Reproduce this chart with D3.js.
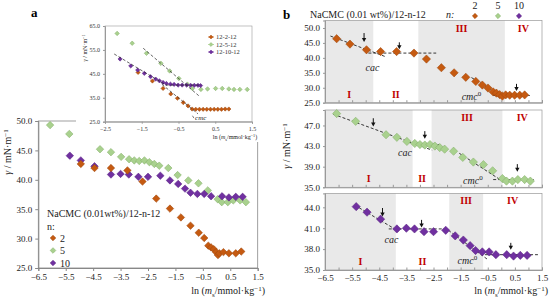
<!DOCTYPE html>
<html>
<head>
<meta charset="utf-8">
<script src="https://cdn.jsdelivr.net/npm/d3@7"></script>
<style>
body { margin: 0; background: #fff; }
text { font-family: "Liberation Serif", "DejaVu Serif", serif; }
</style>
</head>
<body>
<div id="my_dataviz"></div>
<script>
var width = 550;
var height = 298;

// panel a, main chart (NaCMC 0.01 wt% / 12-n-12)
var aX2 = [-4.95,-4.45,-3.85,-3.25,-2.7,-2.2,-1.7,-1.3,-0.95,-0.65,-0.45,-0.3,-0.2,-0.1,-0.02,0.05,0.1,0.25,0.45,0.7,0.9];
var aY2 = [42.7,42.0,42.0,41.6,39.7,36.8,35.1,33.6,32.2,31.0,30.1,28.8,28.5,28.2,27.7,27.2,27.5,27.7,27.5,27.5,27.8];
var aX5 = [-6.07,-5.37,-4.25,-3.85,-3.48,-3.19,-3.0,-2.82,-2.63,-2.45,-2.27,-2.09,-1.76,-1.42,-1.03,-0.66,-0.32,0.04,0.19,0.41,0.61,0.86,1.07];
var aY5 = [49.3,47.8,45.2,44.7,43.9,43.5,43.3,43.2,43.3,43.0,42.7,42.4,42.0,40.8,39.9,39.4,38.2,36.7,36.2,36.2,36.5,36.5,36.2];
var aX10 = [-5.35,-4.95,-4.45,-3.85,-3.5,-3.2,-2.85,-2.5,-2.05,-1.7,-1.4,-1.15,-0.95,-0.7,-0.45,-0.2,0.2,0.45,0.7,0.95];
var aY10 = [44.1,43.3,42.3,40.9,41.0,40.9,40.5,40.5,40.7,39.9,39.3,38.5,37.8,37.6,37.6,37.2,37.2,37.0,37.1,37.1];

// panel a, inset (no polymer)
var iX2 = [-1.60,-1.21,-0.92,-0.71,-0.53,-0.37,-0.24,-0.13,-0.03,0.07,0.17,0.27,0.37,0.47,0.57,0.67,0.77,0.87];
var iY2 = [45.6,42.0,38.9,36.6,34.8,33.0,31.6,30.3,30.2,30.2,30.2,30.2,30.2,30.2,30.2,30.2,30.3,30.3];
var iX5 = [-2.17,-1.76,-1.37,-0.98,-0.74,-0.49,-0.26,-0.12,0.11,0.29,0.51,0.69,0.87,1.01,1.17,1.37];
var iY5 = [61.9,57.8,53.6,49.4,46.2,43.1,40.7,38.9,38.5,38.7,38.9,38.9,38.7,38.5,38.5,38.5];
var iX10 = [-2.09,-1.80,-1.61,-1.43,-1.26,-1.12,-1.02,-0.92,-0.83,-0.72,-0.62,-0.51,-0.40,-0.28,-0.17,-0.07,0.03,0.1];
var iY10 = [51.2,48.3,46.6,45.2,43.8,42.8,42.1,41.4,41.0,40.7,40.6,40.3,40.3,40.3,40.2,40.2,40.2,40.1];
var iFits = [[-1.46,55.7,0.08,35.5],[-2.25,53.3,-0.85,40.4],[-0.95,40.6,0.03,28.3],[-0.85,40.3,0.12,40.3]];
var iLegend = ['12-2-12','12-5-12','12-10-12'];

// panel b orange series (other two are the same as panel a)
var bX2 = [-6.07,-5.58,-4.97,-4.45,-3.86,-3.22,-2.76,-2.21,-1.74,-1.31,-0.94,-0.70,-0.49,-0.30,-0.18,-0.06,0.04,0.16,0.31,0.49,0.68,0.86];
var bY2 = [46.4,44.6,42.7,42.1,42.1,41.6,39.6,36.7,35.0,33.5,32.1,30.9,29.9,28.6,28.2,27.7,27.2,27.6,27.5,27.5,27.5,27.6];

// panel b: shaded regions I and III, fit lines, arrows
var bShade = [[[-6.5,-4.72],[-3.06,0.13]], [[-6.5,-3.27],[-2.57,0.04]], [[-6.5,-3.89],[-1.92,-0.67]]];
var bFits = [
    [[-6.3,47.3,-4.3,40.5],[-4.9,41.6,-2.4,41.6],[-1.1,33.4,0.15,26.6],[-0.3,27.4,1.05,27.4]],
    [[-6.2,49.2,-2.55,42.2],[-3.45,43.7,-2.3,43.3],[-1.55,41.6,0.1,36.0],[-0.3,36.5,1.2,36.5]],
    [[-5.4,44.3,-3.8,40.6],[-4.15,40.9,-1.95,40.9],[-1.95,40.7,-0.5,36.5],[-0.6,37.2,1.35,37.2]]
];
var bArrows = [
    [[-5.06,48.3,45.3],[-3.76,45.2,42.9],[0.56,31.3,28.9]],
    [[-4.72,48.4,46.8],[-2.82,45.9,44.4],[0.59,39.5,38.0]],
    [[-4.38,43.9,42.7],[-2.94,42.2,41.1],[0.35,38.9,37.9]]
];
var bTicks = [[25,30,35,40,45,50],[35,39,43,47],[35,38,41,44]];
var xTicks = [-6.5,-5.5,-4.5,-3.5,-2.5,-1.5,-0.5,0.5,1.5];
var nLabels = ['2','5','10'];
var romans = ['I','II','III','IV'];

var colors = ['#c55a11', '#a9d18e', '#7030a0'];
var strokes = ['#9e470c', '#82ad66', '#5a2282'];

var svg = d3.select("#my_dataviz").append('svg').attr('height', height).attr('width', width);

function diamond(g, xs, ys, xsc, ysc, c, size){
    for(var i = 0; i < xs.length; i++){
        g.append('path')
            .attr('d', d3.symbol(d3.symbolSquare, size)())
            .attr('transform', `translate(${xsc(xs[i])},${ysc(ys[i])}) rotate(45)`)
            .attr('fill', colors[c])
            .attr('stroke', strokes[c])
            .attr('stroke-width', 0.5);
    }
}

function dashed(g, f, xsc, ysc, w){
    g.append('line')
        .attr('x1', xsc(f[0])).attr('y1', ysc(f[1]))
        .attr('x2', xsc(f[2])).attr('y2', ysc(f[3]))
        .attr('stroke', '#222').attr('stroke-width', w)
        .style('stroke-dasharray', '3,2');
}

function xTitle(x, y, fs, anchor){
    var t = svg.append('text').attr('x', x).attr('y', y).attr('text-anchor', anchor)
        .style('font-size', fs + 'px').attr('fill', '#222');
    t.append('tspan').text('ln (');
    t.append('tspan').style('font-style', 'italic').text('m');
    t.append('tspan').attr('dy', fs*0.25).style('font-size', (fs*0.7) + 'px').text('s');
    t.append('tspan').attr('dy', -fs*0.25).text('/mmol·kg');
    t.append('tspan').attr('dy', -fs*0.35).style('font-size', (fs*0.7) + 'px').text('−1');
    t.append('tspan').attr('dy', fs*0.35).text(')');
}

function yTitle(x, y, fs){
    var t = svg.append('text').attr('transform', `translate(${x},${y}) rotate(-90)`)
        .attr('text-anchor', 'middle').style('font-size', fs + 'px').attr('fill', '#222');
    t.append('tspan').style('font-style', 'italic').text('γ');
    t.append('tspan').text(' / mN·m');
    t.append('tspan').attr('dy', -fs*0.35).style('font-size', (fs*0.7) + 'px').text('−1');
}

// ---------------- panel a main ----------------
var ax = d3.scaleLinear().domain([-6.5, 1.5]).range([38.3, 257.7]);
var ay = d3.scaleLinear().domain([25, 50]).range([268, 121]);

svg.append('text').attr('x', 31).attr('y', 17).style('font-size', '13px').style('font-weight', 'bold').text('a');

svg.append('rect').attr('x', ax(-6.5)).attr('y', ay(50)).attr('width', ax(1.5)-ax(-6.5)).attr('height', ay(25)-ay(50))
    .attr('fill', 'none').attr('stroke', '#888').attr('stroke-width', 0.8);

svg.append('g').attr('transform', `translate(0,${ay(25)})`)
    .call(d3.axisBottom(ax).tickValues(xTicks).tickFormat(d3.format('.1f')).tickSize(3))
    .call(g => g.select('.domain').attr('stroke', '#888'))
    .call(g => g.selectAll('line').attr('stroke', '#888'))
    .call(g => g.selectAll('text').style('font-size', '9px').attr('fill', '#222').style('font-family', '"Liberation Serif", serif'));
svg.append('g').attr('transform', `translate(${ax(-6.5)},0)`)
    .call(d3.axisLeft(ay).tickValues([25,30,35,40,45,50]).tickFormat(d3.format('.1f')).tickSize(3))
    .call(g => g.select('.domain').attr('stroke', '#888'))
    .call(g => g.selectAll('line').attr('stroke', '#888'))
    .call(g => g.selectAll('text').style('font-size', '9px').attr('fill', '#222').style('font-family', '"Liberation Serif", serif'));

var ga = svg.append('g');
diamond(ga, aX5, aY5, ax, ay, 1, 28);
diamond(ga, aX10, aY10, ax, ay, 2, 28);
diamond(ga, aX2, aY2, ax, ay, 0, 28);

svg.append('text').attr('x', 47).attr('y', 217).style('font-size', '10px').attr('fill', '#222').text('NaCMC (0.01wt%)/12-n-12');
svg.append('text').attr('x', 47).attr('y', 230).style('font-size', '10px').attr('fill', '#222').text('n:');
for(var i = 0; i < 3; i++){
    var ly = 238 + i*12.5;
    svg.append('path').attr('d', d3.symbol(d3.symbolSquare, 16)())
        .attr('transform', `translate(53,${ly}) rotate(45)`)
        .attr('fill', colors[i]).attr('stroke', strokes[i]).attr('stroke-width', 0.5);
    svg.append('text').attr('x', 60).attr('y', ly + 3.5).style('font-size', '10px').attr('fill', '#222').text(nLabels[i]);
}

yTitle(11, 152, 10);
xTitle(265, 294, 10, 'end');

// ---------------- inset ----------------
var ix = d3.scaleLinear().domain([-2.5, 1.5]).range([105, 252]);
var iy = d3.scaleLinear().domain([25, 65]).range([121.7, 26]);

svg.append('rect').attr('x', 76).attr('y', 20).attr('width', 188).attr('height', 122).attr('fill', '#fff');
svg.append('rect').attr('x', ix(-2.5)).attr('y', iy(65)).attr('width', ix(1.5)-ix(-2.5)).attr('height', iy(25)-iy(65))
    .attr('fill', 'none').attr('stroke', '#999').attr('stroke-width', 0.6);

svg.append('g').attr('transform', `translate(0,${iy(25)})`)
    .call(d3.axisBottom(ix).tickValues([-2.5,-1.5,-0.5,0.5,1.5]).tickFormat(d3.format('.1f')).tickSize(2))
    .call(g => g.select('.domain').attr('stroke', '#999'))
    .call(g => g.selectAll('line').attr('stroke', '#999'))
    .call(g => g.selectAll('text').style('font-size', '6px').attr('fill', '#333').style('font-family', '"Liberation Serif", serif'));
svg.append('g').attr('transform', `translate(${ix(-2.5)},0)`)
    .call(d3.axisLeft(iy).tickValues([25,35,45,55,65]).tickFormat(d3.format('.1f')).tickSize(2))
    .call(g => g.select('.domain').attr('stroke', '#999'))
    .call(g => g.selectAll('line').attr('stroke', '#999'))
    .call(g => g.selectAll('text').style('font-size', '6px').attr('fill', '#333').style('font-family', '"Liberation Serif", serif'));

var gi = svg.append('g');
diamond(gi, iX5, iY5, ix, iy, 1, 10);
diamond(gi, iX2, iY2, ix, iy, 0, 9);
diamond(gi, iX10, iY10, ix, iy, 2, 9);
iFits.forEach(function(f){ dashed(gi, f, ix, iy, 0.7); });

svg.append('text').attr('x', ix(-0.05)).attr('y', iy(25.8)).style('font-size', '7px').style('font-style', 'italic').attr('fill', '#222').text('cmc');
svg.append('line').attr('x1', ix(-0.12)).attr('y1', iy(27.5)).attr('x2', ix(-0.08)).attr('y2', iy(26.5)).attr('stroke', '#222').attr('stroke-width', 0.6);

for(var i = 0; i < 3; i++){
    var ly = 37 + i*7.5;
    svg.append('path').attr('d', d3.symbol(d3.symbolSquare, 8)())
        .attr('transform', `translate(211,${ly}) rotate(45)`)
        .attr('fill', colors[i]).attr('stroke', strokes[i]).attr('stroke-width', 0.4);
    svg.append('line').attr('x1', 208).attr('x2', 214).attr('y1', ly).attr('y2', ly).attr('stroke', colors[i]).attr('stroke-width', 0.8);
    svg.append('text').attr('x', 216).attr('y', ly + 2.2).style('font-size', '6.5px').attr('fill', '#333').text(iLegend[i]);
}

yTitle(87, 48, 6);
xTitle(235, 139, 6, 'middle');

// ---------------- panel b ----------------
var bx = d3.scaleLinear().domain([-6.5, 1.5]).range([325, 542]);
var bys = [
    d3.scaleLinear().domain([25, 52.5]).range([102.7, 20.5]),
    d3.scaleLinear().domain([35, 50]).range([187.3, 110]),
    d3.scaleLinear().domain([35, 46]).range([270, 193.4])
];
var bXs = [bX2, aX5, aX10];
var bYs = [bY2, aY5, aY10];
var cacPos = [[-4.75, 35.6], [-3.55, 41.1], [-4.05, 38.9]];
var cmcPos = [[-1.1, 25.9], [-1.05, 35.7], [-1.25, 35.8]];

svg.append('text').attr('x', 283).attr('y', 19).style('font-size', '13px').style('font-weight', 'bold').text('b');
svg.append('text').attr('x', 310).attr('y', 18).style('font-size', '10px').attr('fill', '#222').text('NaCMC (0.01 wt%)/12-n-12');
svg.append('text').attr('x', 446).attr('y', 18).style('font-size', '10px').style('font-style', 'italic').attr('fill', '#222').text('n:');
var legX = [475, 498, 519];
for(var i = 0; i < 3; i++){
    svg.append('text').attr('x', legX[i]).attr('y', 9).attr('text-anchor', 'middle').style('font-size', '10px').attr('fill', '#222').text(nLabels[i]);
    svg.append('path').attr('d', d3.symbol(d3.symbolSquare, 14)())
        .attr('transform', `translate(${legX[i]},16) rotate(45)`)
        .attr('fill', colors[i]).attr('stroke', strokes[i]).attr('stroke-width', 0.5);
}

for(var k = 0; k < 3; k++){
    var by = bys[k];
    var yTop = by.range()[1], yBot = by.range()[0];
    var g = svg.append('g');

    bShade[k].forEach(function(r){
        g.append('rect').attr('x', bx(r[0])).attr('y', yTop).attr('width', bx(r[1]) - bx(r[0])).attr('height', yBot - yTop)
            .attr('fill', '#e9e9e9');
    });
    g.append('rect').attr('x', bx(-6.5)).attr('y', yTop).attr('width', bx(1.5) - bx(-6.5)).attr('height', yBot - yTop)
        .attr('fill', 'none').attr('stroke', '#999').attr('stroke-width', 0.7);

    g.append('g').attr('transform', `translate(0,${yBot})`)
        .call(d3.axisBottom(bx).tickValues(d3.range(-6.5, 1.51, 0.5)).tickFormat(function(d){
                return (k == 2 && xTicks.indexOf(d) >= 0) ? d3.format('.1f')(d) : '';
            }).tickSize(-2.5))
        .call(g => g.select('.domain').attr('stroke', '#999'))
        .call(g => g.selectAll('line').attr('stroke', '#999'))
        .call(g => g.selectAll('text').attr('dy', '0.9em').style('font-size', '9px').attr('fill', '#222').style('font-family', '"Liberation Serif", serif'));
    g.append('g').attr('transform', `translate(${bx(-6.5)},0)`)
        .call(d3.axisLeft(by).tickValues(bTicks[k]).tickFormat(d3.format('.1f')).tickSize(2))
        .call(g => g.select('.domain').attr('stroke', '#999'))
        .call(g => g.selectAll('line').attr('stroke', '#999'))
        .call(g => g.selectAll('text').style('font-size', '9px').attr('fill', '#222').style('font-family', '"Liberation Serif", serif'));

    // roman numerals: I and II at bottom, III and IV at top
    var bounds = [-6.5, bShade[k][0][1], bShade[k][1][0], bShade[k][1][1], 1.5];
    for(var r = 0; r < 4; r++){
        var cx = (bx(bounds[r]) + bx(bounds[r+1])) / 2;
        g.append('text').attr('x', cx).attr('y', r < 2 ? yBot - 5 : yTop + 11)
            .attr('text-anchor', 'middle').style('font-size', '10px').style('font-weight', 'bold')
            .attr('fill', '#c00000').text(romans[r]);
    }

    bFits[k].forEach(function(f){ dashed(g, f, bx, by, 0.9); });

    diamond(g, bXs[k], bYs[k], bx, by, k, 34);

    bArrows[k].forEach(function(a){
        var x = bx(a[0]), y1 = by(a[1]), y2 = by(a[2]);
        g.append('line').attr('x1', x).attr('x2', x).attr('y1', y1).attr('y2', y2 - 3)
            .attr('stroke', '#111').attr('stroke-width', 1);
        g.append('path').attr('d', `M${x-2.2},${y2-4}L${x+2.2},${y2-4}L${x},${y2}Z`).attr('fill', '#111');
    });

    g.append('text').attr('x', bx(cacPos[k][0])).attr('y', by(cacPos[k][1])).attr('text-anchor', 'middle')
        .style('font-size', '10px').style('font-style', 'italic').attr('fill', '#222').text('cac');
    var t = g.append('text').attr('x', bx(cmcPos[k][0])).attr('y', by(cmcPos[k][1])).attr('text-anchor', 'middle')
        .style('font-size', '10px').style('font-style', 'italic').attr('fill', '#222');
    t.append('tspan').text('cmc');
    t.append('tspan').attr('dy', -4).style('font-size', '7px').style('font-style', 'normal').text('0');
}

yTitle(290, 146, 10);
xTitle(548, 294, 10, 'end');
</script>
</body>
</html>
